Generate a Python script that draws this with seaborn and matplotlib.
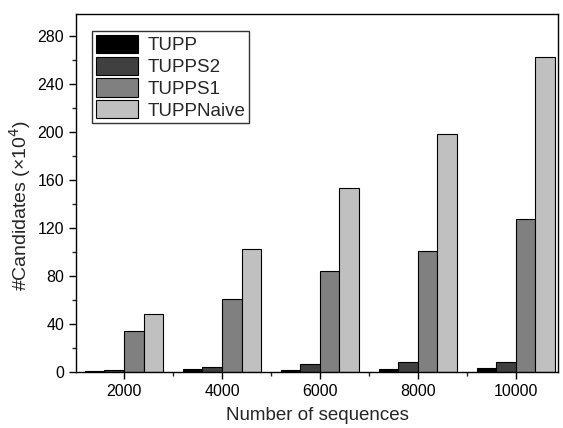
import pandas as pd
import matplotlib.pyplot as plt
import seaborn as sns
from matplotlib.ticker import MultipleLocator

# Data
sizes = ['2000', '4000', '6000', '8000', '10000']
methods = ['TUPP', 'TUPPS2', 'TUPPS1', 'TUPPNaive']
tupp = [1.0, 2.5, 2.0, 2.2, 3.3]
tupps2 = [1.5, 4.4, 6.4, 8.0, 8.6]
tupps1 = [34, 61, 84, 101, 127]
naive = [48.6, 102, 153, 198, 262]
colors = ['#000000', '#404040', '#808080', '#c0c0c0']

rows = []
for m, vals in zip(methods, [tupp, tupps2, tupps1, naive]):
    for s, v in zip(sizes, vals):
        rows.append({'size': s, 'method': m, 'value': v})
df = pd.DataFrame(rows)

sns.set_style('ticks')
plt.rcParams['font.family'] = ['Liberation Sans', 'DejaVu Sans']

fig = plt.figure(figsize=(5.63, 4.28), dpi=100)
ax = fig.add_axes([0.135, 0.131, 0.856, 0.836])

sns.barplot(data=df, x='size', y='value', hue='method', order=sizes,
            hue_order=methods, palette=colors, width=0.8, edgecolor='black',
            linewidth=0.8, ax=ax)

ax.set_xlim(-0.49, 4.43)
ax.set_ylim(0, 298)
ax.yaxis.set_major_locator(MultipleLocator(40))
ax.yaxis.set_minor_locator(MultipleLocator(20))
ax.set_xticks([0.5, 1.5, 2.5, 3.5], minor=True)
for sp in ax.spines.values():
    sp.set_visible(True)
    sp.set_linewidth(1.0)
    sp.set_color('black')
ax.tick_params(axis='both', which='major', direction='out', length=5, width=1,
               labelsize=11.5, colors='black')
ax.tick_params(axis='both', which='minor', direction='out', length=3, width=1)

ax.set_xlabel('Number of sequences', fontsize=13.5, labelpad=6)
ax.set_ylabel('#Candidates (×10$^4$)', fontsize=14)
ax.yaxis.set_label_coords(-0.09, 0.466)

ax.legend(loc='upper left', bbox_to_anchor=(0.033, 0.9525), frameon=True,
          fancybox=False, edgecolor='black', fontsize=13.5, handlelength=2.25,
          handleheight=1.12, labelspacing=0.12, borderpad=0.2, handletextpad=0.5,
          borderaxespad=0)

fig.savefig('out.png', dpi=100)
